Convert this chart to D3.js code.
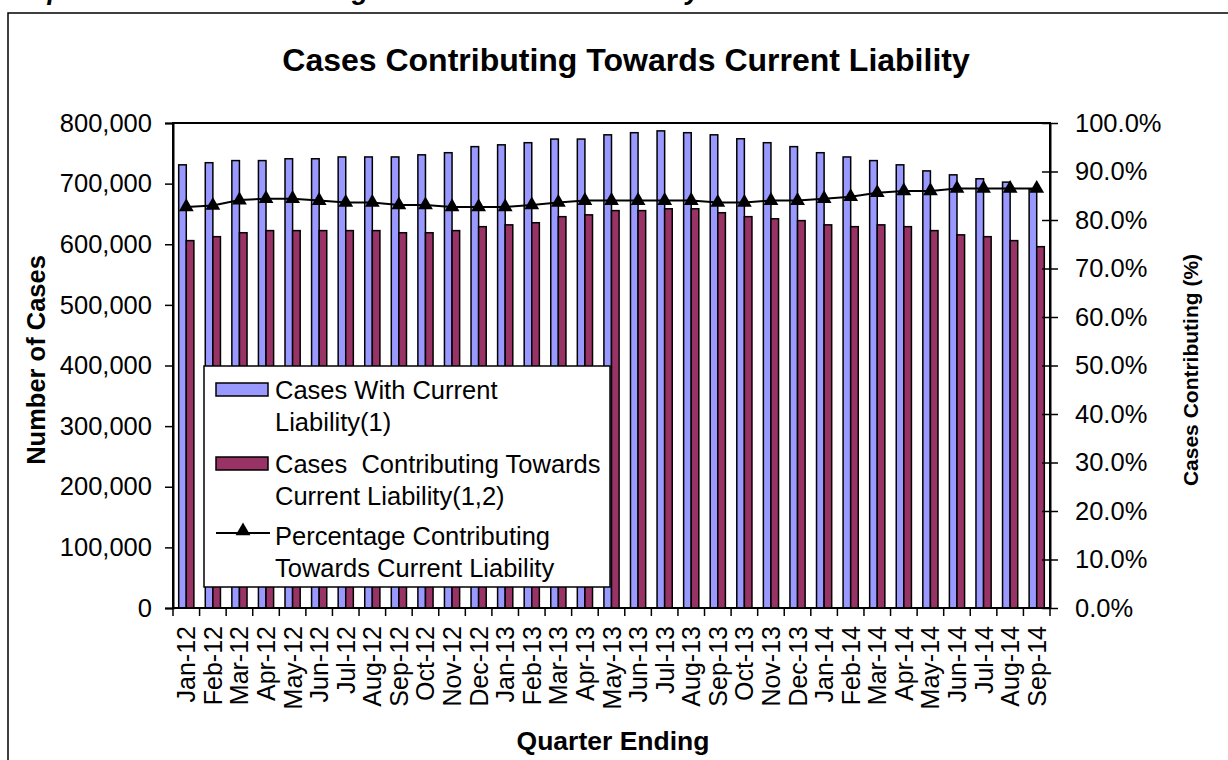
<!DOCTYPE html>
<html>
<head>
<meta charset="utf-8">
<script src="https://cdn.jsdelivr.net/npm/d3@7"></script>
<style>
  body { margin: 0; background: #fff; }
  svg { display: block; font-family: "Liberation Sans", Arial, sans-serif; }
</style>
</head>
<body>
<div id="chart"></div>
<script>
// ==== data ====
const months = [
  "Jan-12", "Feb-12", "Mar-12", "Apr-12", "May-12", "Jun-12", "Jul-12", "Aug-12", "Sep-12", "Oct-12", "Nov-12", "Dec-12",
  "Jan-13", "Feb-13", "Mar-13", "Apr-13", "May-13", "Jun-13", "Jul-13", "Aug-13", "Sep-13", "Oct-13", "Nov-13", "Dec-13",
  "Jan-14", "Feb-14", "Mar-14", "Apr-14", "May-14", "Jun-14", "Jul-14", "Aug-14", "Sep-14"
];

const casesWith = [
  731000, 734500, 738000, 738000, 741000, 741000, 744000, 744000, 744000, 747500, 751000, 761000,
  764000, 767500, 773500, 773500, 780500, 784000, 787000, 784000, 780500, 774000, 767500, 761000,
  751000, 744000, 738000, 731000, 721000, 714500, 708000, 702500, 690000
];

const casesContrib = [
  606000, 612500, 619000, 622500, 622500, 622500, 622500, 622500, 619000, 619000, 622500, 629000,
  632000, 635500, 645500, 648500, 655500, 655500, 658500, 658500, 652000, 645500, 642000, 639000,
  632000, 629000, 632000, 629000, 622500, 615500, 612500, 606000, 596000
];

// percent contributing (right axis)
const pctContrib = [
  82.7, 83.0, 84.1, 84.4, 84.4, 84.0, 83.6, 83.6, 83.1, 83.1, 82.7, 82.7,
  82.7, 83.1, 83.6, 84.0, 84.0, 84.0, 84.0, 84.0, 83.6, 83.6, 84.0, 84.0,
  84.4, 84.8, 85.6, 86.0, 86.0, 86.5, 86.5, 86.5, 86.5
];

const leftTicks  = [0, 100000, 200000, 300000, 400000, 500000, 600000, 700000, 800000];
const rightTicks = [0, 10, 20, 30, 40, 50, 60, 70, 80, 90, 100];

const seriesNames = ["Cases With Current Liability(1)", "Cases  Contributing Towards Current Liability(1,2)"];
const legendLines = [
  ["Cases With Current", "Liability(1)"],
  ["Cases  Contributing Towards", "Current Liability(1,2)"],
  ["Percentage Contributing", "Towards Current Liability"]
];

const blueFill = "#9999ff";
const redFill  = "#993366";

// ==== layout ====
const W = 1228, H = 760;
const plot = { left: 173, right: 1050, top: 123, bottom: 608 };
const tickFont = "25.5px";

const svg = d3.select("#chart")
  .append("svg")
    .attr("width", W)
    .attr("height", H);

// document caption, cut by the top edge as in the source page
svg.append("text")
  .attr("x", 1)
  .attr("y", -1.5)
  .style("font-size", "27px")
  .style("font-weight", "bold")
  .style("font-style", "italic")
  .text("Graph 1: Cases Contributing Towards Current Liability");

// chart frame (only left and top edges fall inside the picture)
svg.append("path")
  .attr("d", `M8,${H + 2} L8,13 L${W + 2},13`)
  .attr("fill", "none")
  .attr("stroke", "#000")
  .attr("stroke-width", 1.5);

// ==== scales ====
const x0 = d3.scaleBand()
  .domain(months)
  .range([plot.left, plot.right])
  .paddingInner(0);

const x1 = d3.scaleBand()
  .domain(seriesNames)
  .range([0, x0.bandwidth()])
  .paddingInner(0)
  .paddingOuter(0.75);

const y = d3.scaleLinear()
  .domain([0, 800000])
  .range([plot.bottom, plot.top]);

const yR = d3.scaleLinear()
  .domain([0, 100])
  .range([plot.bottom, plot.top]);

// ==== bars ====
const barData = months.map((m, i) => ({ m, vals: [casesWith[i], casesContrib[i]] }));

const groups = svg.append("g")
  .selectAll("g")
  .data(barData)
  .enter()
  .append("g")
    .attr("transform", d => `translate(${x0(d.m)},0)`);

groups.selectAll("rect")
  .data(d => d.vals.map((v, k) => ({ k, v })))
  .enter()
  .append("rect")
    .attr("x", d => x1(seriesNames[d.k]))
    .attr("y", d => y(d.v))
    .attr("width", x1.bandwidth())
    .attr("height", d => y(0) - y(d.v))
    .attr("fill", d => d.k === 0 ? blueFill : redFill)
    .attr("stroke", "#000")
    .attr("stroke-width", 1.5);

// ==== plot box ====
svg.append("path")
  .attr("d", `M${plot.left},${plot.bottom} L${plot.left},${plot.top} L${plot.right},${plot.top} L${plot.right},${plot.bottom}`)
  .attr("fill", "none")
  .attr("stroke", "#000")
  .attr("stroke-width", 2);

// ==== left axis ====
const fmtNum = d3.format(",");
const leftAxis = svg.append("g")
  .attr("transform", `translate(${plot.left},0)`)
  .call(d3.axisLeft(y).tickValues(leftTicks).tickFormat(fmtNum).tickSize(8).tickPadding(13));
leftAxis.select(".domain").attr("stroke-width", 2);
leftAxis.selectAll(".tick line").attr("stroke-width", 1.5);
leftAxis.selectAll("text")
  .attr("fill", "#000")
  .style("font-family", "Liberation Sans, Arial, sans-serif")
  .style("font-size", tickFont);

// ==== right axis (cross ticks) ====
const rightAxis = svg.append("g")
  .attr("transform", `translate(${plot.right},0)`)
  .call(d3.axisRight(yR).tickValues(rightTicks).tickFormat(d => d.toFixed(1) + "%").tickSizeInner(8).tickSizeOuter(0).tickPadding(17));
rightAxis.select(".domain").attr("stroke-width", 2);
rightAxis.selectAll(".tick line").attr("x1", -8).attr("stroke-width", 1.5);
rightAxis.selectAll("text")
  .attr("fill", "#000")
  .style("font-family", "Liberation Sans, Arial, sans-serif")
  .style("font-size", tickFont);

// ==== bottom axis ====
svg.append("line")
  .attr("x1", plot.left).attr("x2", plot.right)
  .attr("y1", plot.bottom).attr("y2", plot.bottom)
  .attr("stroke", "#000").attr("stroke-width", 2);

// ticks sit between categories
const bounds = months.map(m => x0(m)).concat([x0(months[months.length - 1]) + x0.bandwidth()]);
svg.append("g")
  .selectAll("line")
  .data(bounds)
  .enter()
  .append("line")
    .attr("x1", d => d).attr("x2", d => d)
    .attr("y1", plot.bottom).attr("y2", plot.bottom + 8)
    .attr("stroke", "#000").attr("stroke-width", 1.5);

svg.append("g")
  .selectAll("text")
  .data(months)
  .enter()
  .append("text")
    .attr("transform", d => `translate(${x0(d) + x0.bandwidth() / 2 + 9},${plot.bottom + 18}) rotate(-90)`)
    .attr("text-anchor", "end")
    .style("font-size", "25px")
    .text(d => d);

// ==== percentage line ====
const line = d3.line()
  .x((d, i) => x0(months[i]) + x0.bandwidth() / 2)
  .y(d => yR(d));

svg.append("path")
  .datum(pctContrib)
  .attr("d", line)
  .attr("fill", "none")
  .attr("stroke", "#000")
  .attr("stroke-width", 2);

const tri = d3.symbol().type(d3.symbolTriangle).size(95);
svg.append("g")
  .selectAll("path")
  .data(pctContrib)
  .enter()
  .append("path")
    .attr("d", tri)
    .attr("transform", (d, i) => `translate(${x0(months[i]) + x0.bandwidth() / 2},${yR(d)})`)
    .attr("fill", "#000");

// ==== titles ====
svg.append("text")
  .attr("x", 626)
  .attr("y", 71)
  .attr("text-anchor", "middle")
  .style("font-size", "32px")
  .style("font-weight", "bold")
  .text("Cases Contributing Towards Current Liability");

svg.append("text")
  .attr("transform", "translate(45,360) rotate(-90)")
  .attr("text-anchor", "middle")
  .style("font-size", "25.5px")
  .style("font-weight", "bold")
  .text("Number of Cases");

svg.append("text")
  .attr("transform", "translate(1198,370) rotate(-90)")
  .attr("text-anchor", "middle")
  .style("font-size", "21px")
  .style("font-weight", "bold")
  .text("Cases Contributing (%)");

svg.append("text")
  .attr("x", 613)
  .attr("y", 750)
  .attr("text-anchor", "middle")
  .style("font-size", "26.5px")
  .style("font-weight", "bold")
  .text("Quarter Ending");

// ==== legend ====
const lg = svg.append("g").attr("transform", "translate(204,366)");
lg.append("rect")
  .attr("width", 406).attr("height", 221)
  .attr("fill", "#fff")
  .attr("stroke", "#000").attr("stroke-width", 1.5);

const rowY = [0, 74, 146];
legendLines.forEach((lines, i) => {
  const g = lg.append("g").attr("transform", `translate(0,${rowY[i]})`);
  if (i < 2) {
    g.append("rect")
      .attr("x", 12).attr("y", 17)
      .attr("width", 52).attr("height", 13)
      .attr("fill", i === 0 ? blueFill : redFill)
      .attr("stroke", "#000").attr("stroke-width", 1.5);
  } else {
    g.append("line")
      .attr("x1", 12).attr("x2", 66)
      .attr("y1", 21).attr("y2", 21)
      .attr("stroke", "#000").attr("stroke-width", 2);
    g.append("path")
      .attr("d", tri)
      .attr("transform", "translate(39,19)")
      .attr("fill", "#000");
  }
  lines.forEach((t, k) => {
    g.append("text")
      .attr("x", 71)
      .attr("y", 33 + k * 32)
      .attr("xml:space", "preserve")
      .style("white-space", "pre")
      .style("font-size", "25.5px")
      .text(t);
  });
});
</script>
</body>
</html>
